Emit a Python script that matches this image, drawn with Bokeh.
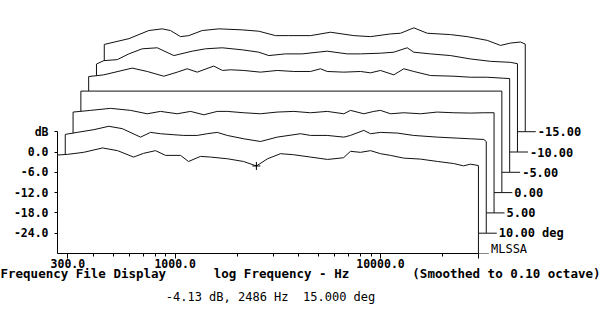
from bokeh.plotting import figure
from bokeh.models import Range1d, FixedTicker, LogAxis
from bokeh.embed import file_html
from bokeh.resources import INLINE
from bokeh.core.properties import value

# ---------------- data ----------------
F_LO = 267.0
F_HI = 30000.0

freq_15 = [267, 299, 358, 443, 524, 627, 701, 802, 897, 1061, 1161, 1328, 1486, 1798, 2151, 2486, 2817,
           3257, 3770, 4560, 5518, 6603, 7143, 7990, 8940, 10000, 11187, 12942, 15654, 18950, 22680,
           25370, 27440, 30000]
db_15 = [-0.9, -0.7, -0.1, 1.2, 0.4, -1.5, -0.4, 0.4, -1.0, -1.0, -2.8, -1.3, -1.5, -2.0, -2.8, -4.13, -2.0,
         -0.5, -0.8, -1.5, -2.2, -1.7, 0.2, -0.1, 0.4, -0.5, -1.0, -1.8, -2.1, -2.8, -3.4,
         -4.1, -3.6, -4.0]

freq_10 = [267, 305, 368, 435, 506, 621, 695, 777, 902, 1009, 1173, 1312, 1468, 1642, 1978, 2385, 2877,
           3736, 4178, 5039, 6071, 6543, 7599, 8190, 9163, 11049, 13266, 17310, 21660, 25150, 29190, 30000]
db_10 = [-0.8, -0.2, 0.6, 1.6, 0.9, -1.6, -0.2, -0.6, -0.9, -1.1, -1.1, -0.6, -0.2, -1.1, -2.1, -2.9, -1.6,
         -0.6, -1.1, -1.1, -1.6, -1.1, 0.4, -0.6, -0.2, -0.4, -1.1, -1.6, -1.9, -2.1, -2.3, -2.9]

freq_5 = [267, 325, 406, 509, 613, 712, 859, 997, 1157, 1345, 1504, 1813, 2185, 2635, 3175, 3828, 4617,
          5563, 5997, 6961, 7789, 8395, 9391, 10902, 13150, 15860, 19100, 23040, 26740, 30000]
db_5 = [-0.2, 0.3, 0.9, 0.3, -0.7, 0.0, -0.7, 0.0, -1.0, 0.0, 0.0, -0.4, -0.7, -0.2, 0.0, -0.4, 0.0,
        -0.7, 0.3, -0.7, 0.0, 0.3, -0.7, -0.4, -0.7, -0.2, -0.4, -0.5, -0.4, -0.4]

freq_0 = [267, 30000]
db_0 = [0.0, 0.0]

freq_m5 = [267, 316, 435, 515, 620, 721, 806, 902, 1086, 1198, 1310, 1521, 1834, 2213, 2665, 3214, 3596,
           3876, 4669, 5631, 6299, 7047, 8180, 9151, 10237, 12350, 16040, 19340, 23320, 28090, 30000]
db_m5 = [-1.7, -1.2, 0.8, -0.2, -1.6, -0.4, 0.6, -0.4, 1.4, 0.1, 0.3, 0.1, -0.4, 0.1, -0.2, -0.2, 0.6,
         -0.2, -0.4, -0.2, -0.6, 0.1, -1.2, 0.6, -0.2, -1.4, -1.6, -1.9, -1.9, -2.2, -2.3]

freq_m10 = [267, 290, 337, 384, 446, 528, 636, 781, 907, 1094, 1369, 1649, 1845, 2225, 2683, 3551, 4444,
            5159, 6457, 7496, 8712, 9380, 11314, 14160, 17720, 22170, 27750, 30000]
db_m10 = [-4.0, -3.0, -2.7, -1.0, 0.5, 0.8, -1.5, -0.2, 0.5, 0.8, 0.2, -0.5, -1.5, -1.0, -1.0, -0.2, -1.0,
          -1.0, -0.8, -0.5, 0.8, -0.5, -1.0, -1.5, -2.5, -3.2, -3.5, -3.9]

freq_m15 = [267, 352, 440, 511, 561, 628, 689, 801, 965, 1254, 1511, 1822, 2115, 2698, 3377, 4385, 5288,
            6619, 7405, 8596, 9989, 12970, 15640, 19580, 22730, 25420, 28440, 30000]
db_m15 = [-4.2, -2.5, -0.1, 0.4, -0.1, -1.9, -1.6, -0.1, 0.4, 0.1, -0.3, -1.6, -1.6, -1.6, -0.6, -1.6, -1.9,
          -1.1, -0.9, 0.7, -0.9, -1.3, -1.9, -3.0, -4.5, -3.8, -3.5, -4.1]

# front to back
curve_labels = ["MLSSA", "10.00 deg", "5.00", "0.00", "-5.00", "-10.00", "-15.00"]

x_major = [300, 1000, 10000, 30000]
x_minor = [400, 500, 600, 700, 800, 900, 2000, 3000, 4000, 5000, 6000, 7000, 8000, 9000, 20000]
x_labels = ["300.0", "1000.0", "10000.0", ""]
y_ticks = [-24, -18, -12, -6, 0, 6]
y_labels = ["-24.0", "-18.0", "-12.0", "-6.0", "0.0", "dB"]

footer_texts = ["Frequency File Display", "log Frequency - Hz", "(Smoothed to 0.10 octave)"]

cursor_freq = 2486
cursor_db = -4.13
cursor_angle = 15.0

# ---------------- layout constants ----------------
SHIFT_DEC = 0.038      # horizontal offset per trace, decades
STEP_DB = 6.0          # vertical offset per trace, dB
FLOOR_DB = -30.0
PX_PER_DEC = 205.3
X0_PX = 174.7          # pixel of 1 kHz
FONT = "DejaVu Sans Mono"


def x_at(px):
    return 10 ** (3 + (px - X0_PX) / PX_PER_DEC)


curves = [(freq_15, db_15), (freq_10, db_10), (freq_5, db_5), (freq_0, db_0),
          (freq_m5, db_m5), (freq_m10, db_m10), (freq_m15, db_m15)]

p = figure(width=600, height=328, x_axis_type="log",
           x_range=Range1d(x_at(57), x_at(600)), y_range=Range1d(-30.0, -30.0 + 253 / 3.3833),
           output_backend="svg", toolbar_location=None,
           min_border_left=57, min_border_right=0, min_border_top=0, min_border_bottom=75)
p.outline_line_color = None
p.xgrid.visible = False
p.ygrid.visible = False
p.background_fill_color = "white"
p.border_fill_color = "white"

# traces drawn back to front, each filled white to hide the ones behind it
for k in reversed(range(len(curves))):
    f, d = curves[k]
    s = 10 ** (SHIFT_DEC * k)
    base = FLOOR_DB + STEP_DB * k
    xs = [fi * s for fi in f] + [F_HI * s, F_LO * s]
    ys = [di + STEP_DB * k for di in d] + [base, base]
    p.patch(xs, ys, fill_color="white", line_color="#111111", line_width=1)
    p.segment(x0=[F_HI * s], y0=[base], x1=[F_HI * s * 10 ** (10.5 / PX_PER_DEC)], y1=[base],
              line_color="#111111", line_width=1)
    lx = F_HI * s * 10 ** (12.5 / PX_PER_DEC)
    if k == 0:
        p.text(x=[lx], y=[base + 1.25], text=[curve_labels[k]],
               text_font=value(FONT), text_font_size="12px", text_baseline="middle",
               text_color="black")
    else:
        p.text(x=[lx], y=[base], text=[curve_labels[k]],
               text_font=value(FONT), text_font_size="12px", text_font_style="bold",
               text_baseline="middle", text_color="black")

# cursor
p.scatter([cursor_freq], [cursor_db], marker="cross", size=8, line_color="black", line_width=1)

# main axes
xa = p.xaxis[0]
xa.ticker = FixedTicker(ticks=x_major, minor_ticks=x_minor)
xa.major_label_overrides = {t: l for t, l in zip(x_major, x_labels)}
xa.bounds = (F_LO, F_HI)
xa.major_tick_out = 5
xa.major_tick_in = 0
xa.minor_tick_out = 3
xa.minor_tick_in = 0
xa.major_label_standoff = 0
xa.axis_line_color = "black"
xa.major_tick_line_color = "black"
xa.minor_tick_line_color = "black"
xa.major_label_text_font = FONT
xa.major_label_text_font_style = "bold"
xa.major_label_text_font_size = "11.5px"
xa.major_label_text_color = "black"

ya = p.yaxis[0]
ya.ticker = FixedTicker(ticks=y_ticks)
ya.major_label_overrides = {t: l for t, l in zip(y_ticks, y_labels)}
ya.bounds = (FLOOR_DB, 6)
ya.major_tick_out = 3
ya.major_tick_in = 0
ya.minor_tick_line_color = None
ya.major_label_standoff = 6
ya.axis_line_color = "black"
ya.major_tick_line_color = "black"
ya.major_label_text_font = FONT
ya.major_label_text_font_style = "bold"
ya.major_label_text_font_size = "11.5px"
ya.major_label_text_color = "black"

# footer rows, rendered as label-only axes stacked under the frequency axis
footer_pos = [x_at(82), x_at(281), x_at(507)]
ax2 = LogAxis(ticker=FixedTicker(ticks=footer_pos, minor_ticks=[]),
              major_label_overrides={t: l for t, l in zip(footer_pos, footer_texts)},
              axis_line_color=None, major_tick_line_color=None, minor_tick_line_color=None,
              major_tick_out=0, major_tick_in=0, minor_tick_out=0, minor_tick_in=0,
              major_label_standoff=-5,
              major_label_text_font=FONT, major_label_text_font_style="bold",
              major_label_text_font_size="12.5px", major_label_text_color="black")
p.add_layout(ax2, "below")

cursor_txt = f"{cursor_db:.2f} dB, {cursor_freq} Hz  {cursor_angle:.3f} deg"
cursor_pos = [x_at(270)]
ax3 = LogAxis(ticker=FixedTicker(ticks=cursor_pos, minor_ticks=[]),
              major_label_overrides={cursor_pos[0]: cursor_txt.replace("  ", "\u00a0\u00a0")},
              axis_line_color=None, major_tick_line_color=None, minor_tick_line_color=None,
              major_tick_out=0, major_tick_in=0, minor_tick_out=0, minor_tick_in=0,
              major_label_standoff=6,
              major_label_text_font=FONT,
              major_label_text_font_size="12px", major_label_text_color="black")
p.add_layout(ax3, "below")

open("out.html", "w").write(file_html(p, INLINE))
